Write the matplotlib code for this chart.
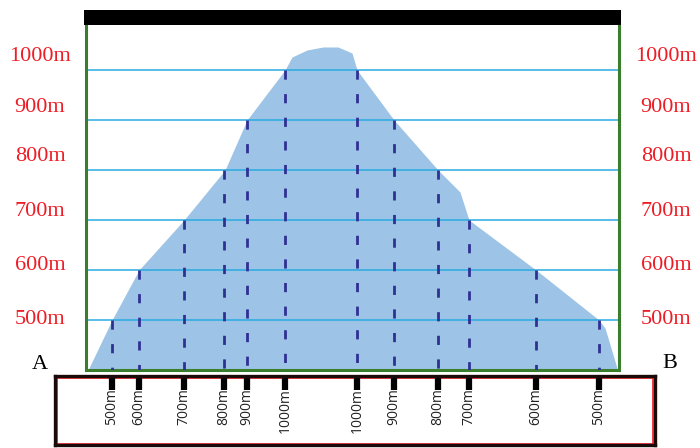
"""
Terrain profile A-B with contour crossings and a distance strip below.
"""

import matplotlib.pyplot as plt
from matplotlib.patches import Rectangle
from matplotlib.transforms import blended_transform_factory

# Profile (distance along A-B, elevation in m)
DIST = [2, 26, 53, 98, 139, 161, 199, 206, 221, 237, 252, 266, 271, 308, 352, 374, 383, 450, 513, 519, 531]
ELEV = [400, 500, 600, 700, 800, 900, 1000, 1026, 1040, 1046, 1046, 1034, 1000, 900, 800, 756, 700, 600, 500, 484, 404]

# Contour levels and where the profile crosses them
LEVELS = [500, 600, 700, 800, 900, 1000]
LEVEL_LABELS = ["500m", "600m", "700m", "800m", "900m", "1000m"]
CROSS_X = [26, 53, 98, 138, 161, 199, 271, 308, 352, 383, 450, 513]
CROSS_ELEV = [500, 600, 700, 800, 900, 1000, 1000, 900, 800, 700, 600, 500]
CROSS_LABELS = ["500m", "600m", "700m", "800m", "900m", "1000m",
                "1000m", "900m", "800m", "700m", "600m", "500m"]

W, H = 700, 448
RED = "#ee1c25"
FILL = "#9dc3e6"
GRID = "#29abe2"
DASH = "#2e3192"
GREEN = "#3a7d2c"


def fx(px):
    return px / W


def fy(py):
    return 1 - py / H


fig = plt.figure(figsize=(7, 4.48), dpi=100)

# main profile axes
ax = fig.add_axes([fx(86), fy(370), fx(619) - fx(86), fy(25) - fy(370)])
ax.set_xlim(0, 533)
ax.set_ylim(400, 1090)
ax.fill_between(DIST, ELEV, 400, color=FILL, lw=0, zorder=1)
for lev in LEVELS:
    ax.axhline(lev, color=GRID, lw=1.1, zorder=2)
for x, e in zip(CROSS_X, CROSS_ELEV):
    ax.plot([x, x], [e, 400], color=DASH, lw=2, ls=(0, (3.3, 5.2)), zorder=3,
            solid_capstyle="butt")
ax.set_xticks([])
ax.set_yticks([])
for side in ["left", "right", "bottom"]:
    ax.spines[side].set_color(GREEN)
    ax.spines[side].set_linewidth(2.2)
ax.spines["top"].set_visible(False)

# black bar on top
fig.add_artist(Rectangle((fx(84), fy(25)), fx(621) - fx(84), fy(10) - fy(25),
                         transform=fig.transFigure, color="black", lw=0))

# elevation labels both sides
label_offset = [0, 8, 18, 28, 26, 28]
trans = blended_transform_factory(fig.transFigure, ax.transData)
for lev, lab, off in zip(LEVELS, LEVEL_LABELS, label_offset):
    for xpos in (fx(40), fx(666)):
        fig.text(xpos, lev + off, lab, transform=trans, ha="center", va="center",
                 color=RED, fontsize=16, family="Liberation Serif")

fig.text(fx(40), fy(364), "A", ha="center", va="center", fontsize=16,
         family="Liberation Serif", color="black")
fig.text(fx(670), fy(363), "B", ha="center", va="center", fontsize=16,
         family="Liberation Serif", color="black")

# distance strip
bx = fig.add_axes([fx(55), fy(445), fx(655) - fx(55), fy(376) - fy(445)])
bx.set_xlim(55 - 86, 655 - 86)
bx.set_ylim(0, 1)
bx.set_yticks([])
bx.set_xticks(CROSS_X)
bx.set_xticklabels([])
bx.tick_params(axis="x", which="both", bottom=False, top=True, direction="in",
               length=10, width=4.5, color="black")
for side in bx.spines.values():
    side.set_color("#1a0a0a")
    side.set_linewidth(2.4)
bx.add_patch(Rectangle((0.004, 0.02), 0.992, 0.95, transform=bx.transAxes,
                       fill=False, edgecolor=RED, lw=1.2))
for x, lab in zip(CROSS_X, CROSS_LABELS):
    bx.text(x, 0.82, lab, rotation=90, ha="center", va="top", fontsize=10,
            color="#222222", family="Open Sans")

fig.savefig("out.png", dpi=100)
